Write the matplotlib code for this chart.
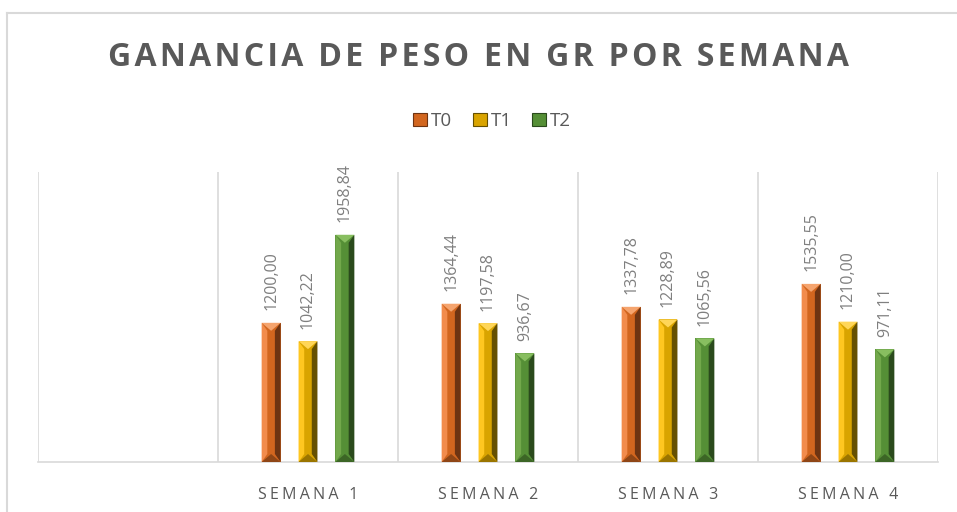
import matplotlib
matplotlib.use("Agg")
import matplotlib.pyplot as plt
from matplotlib.patches import Polygon, Patch
import numpy as np

categories = ["", "SEMANA 1", "SEMANA 2", "SEMANA 3", "SEMANA 4"]
series_names = ["T0", "T1", "T2"]
t0 = [np.nan, 1200.00, 1364.44, 1337.78, 1535.55]
t1 = [np.nan, 1042.22, 1197.58, 1228.89, 1210.00]
t2 = [np.nan, 1958.84, 936.67, 1065.56, 971.11]
title = "GANANCIA DE PESO EN GR POR SEMANA"

plt.rcParams['font.family'] = ['Open Sans', 'DejaVu Sans']

# (left, mid, right, top, bottom)
palettes = [
    ("#F28C4C", "#D2661F", "#6E3412", "#F5A46E", "#8F4616"),
    ("#FFC721", "#D9A400", "#665000", "#FFD658", "#9A7500"),
    ("#72A84B", "#558F36", "#2A4A1C", "#88BE60", "#3C6626"),
]

def spaced(s, sep="\u200a"):
    return sep.join(list(s))

fig = plt.figure(figsize=(9.57, 5.12), dpi=100)
W, H = 957, 512
ax = fig.add_axes([38 / W, 1 - 462 / H, 900 / W, 290 / H])
ax.set_xlim(-0.5, len(categories) - 0.5)
ax.set_ylim(0, 2500)

x = np.arange(len(categories))
width = 0.105
offsets = [-0.205, 0.0, 0.205]
px_per_unit_y = 290 / 2500.0
bev_y = 8 / px_per_unit_y

for vals, off, pal, name in zip([t0, t1, t2], offsets, palettes, series_names):
    bars = ax.bar(x + off, vals, width, color=pal[1], zorder=3, label=name)
    for rect, v in zip(bars, vals):
        if np.isnan(v):
            continue
        x0 = rect.get_x(); x1 = x0 + rect.get_width(); h = rect.get_height()
        w = x1 - x0
        b = w * 0.3
        ax.add_patch(Polygon([(x0, 0), (x0 + b, bev_y), (x0 + b, h - bev_y), (x0, h)],
                             closed=True, facecolor=pal[0], edgecolor='none', zorder=4))
        ax.add_patch(Polygon([(x1, 0), (x1 - b, bev_y), (x1 - b, h - bev_y), (x1, h)],
                             closed=True, facecolor=pal[2], edgecolor='none', zorder=4))
        ax.add_patch(Polygon([(x0, h), (x1, h), (x0 + w / 2, h - bev_y)],
                             closed=True, facecolor=pal[3], edgecolor='none', zorder=5))
        ax.add_patch(Polygon([(x0, 0), (x1, 0), (x0 + w / 2, bev_y)],
                             closed=True, facecolor=pal[4], edgecolor='none', zorder=5))
        ax.annotate(f"{v:.2f}".replace(".", ","), (x0 + w / 2, h), xytext=(0, 9),
                    textcoords='offset points', rotation=90, ha='center', va='bottom',
                    fontsize=11.5, color="#7F7F7F")

for gx in np.arange(-0.5, len(categories), 1.0):
    ax.axvline(gx, color="#D9D9D9", lw=1.2, zorder=1)

for s in ["top", "right", "left"]:
    ax.spines[s].set_visible(False)
ax.spines["bottom"].set_color("#D9D9D9")
ax.spines["bottom"].set_linewidth(1.2)
ax.set_yticks([])
ax.set_xticks(x)
ax.set_xticklabels([spaced(c, "\u200a\u200a") if c else "" for c in categories],
                   fontsize=11.5, color="#595959")
ax.tick_params(axis='x', length=0, pad=18)

fig.text(0.5, 1 - 57 / H, spaced(title), ha='center', va='center',
         fontsize=23, fontweight='bold', color="#595959")

handles = [Patch(facecolor=p[1], edgecolor=p[2], lw=0.8) for p in palettes]
fig.legend(handles, series_names, loc='center', bbox_to_anchor=(492 / W, 1 - 121 / H),
           ncol=3, frameon=False, fontsize=13.5, labelcolor="#595959",
           handlelength=0.75, handleheight=0.75, handletextpad=0.2, columnspacing=1.1)

fig.add_artist(plt.Line2D([7.5 / W, 7.5 / W], [0, 1 - 12.5 / H], transform=fig.transFigure,
                          color="#D9D9D9", lw=1.5))
fig.add_artist(plt.Line2D([7.5 / W, 1], [1 - 12.5 / H, 1 - 12.5 / H], transform=fig.transFigure,
                          color="#D9D9D9", lw=1.5))

fig.savefig("out.png", dpi=100, facecolor="white")
